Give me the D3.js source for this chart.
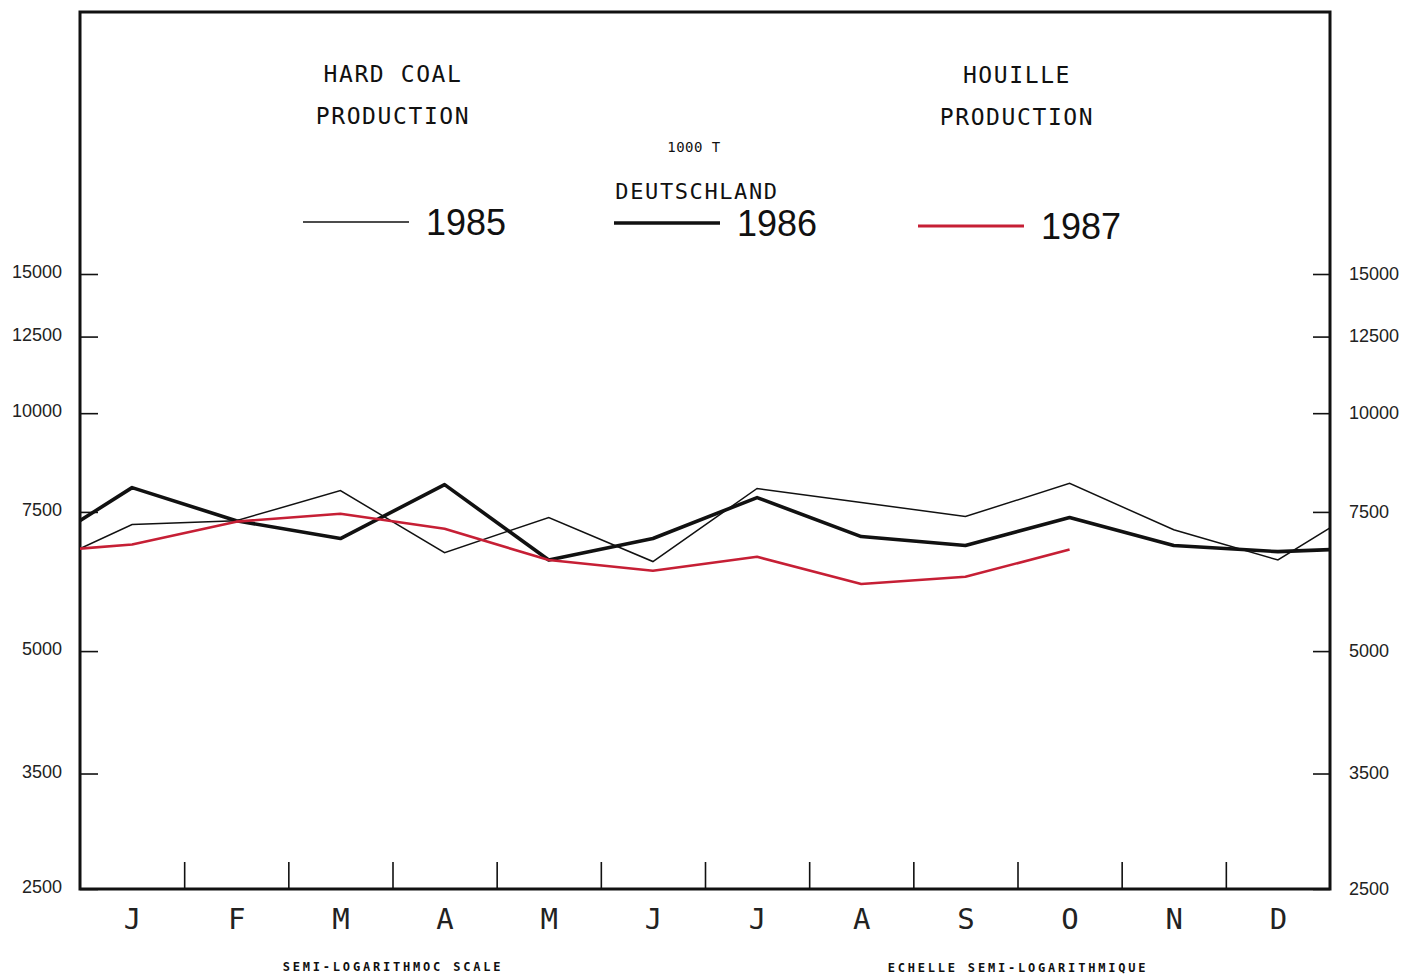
<!DOCTYPE html>
<html>
<head>
<meta charset="utf-8">
<script src="https://cdn.jsdelivr.net/npm/d3@7"></script>
<style>
  body { margin: 0; background: #fff; }
  .mono { font-family: "DejaVu Sans Mono", "Liberation Mono", monospace; }
</style>
</head>
<body>
<div id="chart"></div>
<script>
// months of the year, tick values of the log axis
const months = ['J', 'F', 'M', 'A', 'M', 'J', 'J', 'A', 'S', 'O', 'N', 'D'];
const yTicks = [2500, 3500, 5000, 7500, 10000, 12500, 15000];

// 1000 t, previous december, jan..dec, next january
const prod1985 = [6280, 7230, 7310, 7980, 6660, 7380, 6490, 8030, 7710, 7400, 8150, 7120, 6520, 7865];
const prod1986 = [6640, 8050, 7310, 6940, 8120, 6520, 6940, 7820, 6980, 6800, 7380, 6800, 6680, 6760];
const prod1987 = [6660, 6820, 7290, 7460, 7140, 6520, 6320, 6580, 6080, 6210, 6720];

const width = 1419, height = 975;
const mLeft = 80, mRight = 1330, mTop = 12, mBottom = 889;
const red = '#c61f35';

const svg = d3.select('#chart').append('svg')
  .attr('width', width).attr('height', height);

const x = d3.scaleLinear().domain([-0.5, 11.5]).range([mLeft, mRight]);
const y = d3.scaleLog().domain([2500, 15000]).range([mBottom, 274]);

svg.append('clipPath').attr('id', 'plot')
  .append('rect').attr('x', mLeft).attr('y', mTop)
  .attr('width', mRight - mLeft).attr('height', mBottom - mTop);

// axes
const styleAxis = g => {
  g.select('.domain').remove();
  g.selectAll('.tick line').attr('stroke', '#111').attr('stroke-width', 1.6);
  g.selectAll('text').attr('fill', '#222');
};

svg.append('g').attr('transform', `translate(${mLeft},0)`)
  .call(d3.axisLeft(y).tickValues(yTicks).tickFormat(d3.format('d')).tickSize(-18).tickPadding(18))
  .call(styleAxis)
  .selectAll('text').attr('dy', '0.2em').style('font', '18px "Liberation Sans", Arial, sans-serif');

svg.append('g').attr('transform', `translate(${mRight},0)`)
  .call(d3.axisRight(y).tickValues(yTicks).tickFormat(d3.format('d')).tickSize(-17).tickPadding(19))
  .call(styleAxis)
  .selectAll('text').attr('dy', '0.3em').style('font', '18px "Liberation Sans", Arial, sans-serif');

svg.append('g').attr('transform', `translate(0,${mBottom})`)
  .call(d3.axisBottom(x).tickValues(d3.range(11).map(i => i + 0.5)).tickSize(-27).tickFormat(''))
  .call(styleAxis);

svg.append('g').attr('transform', `translate(0,${mBottom})`)
  .call(d3.axisBottom(x).tickValues(d3.range(12)).tickSize(0).tickPadding(19).tickFormat(i => months[i]))
  .call(styleAxis)
  .selectAll('text').attr('class', 'mono').style('font-size', '29px');

// frame
svg.append('rect')
  .attr('x', mLeft).attr('y', mTop)
  .attr('width', mRight - mLeft).attr('height', mBottom - mTop)
  .attr('fill', 'none').attr('stroke', '#111').attr('stroke-width', 3);

// lines
const line = d3.line().x((d, i) => x(i - 1)).y(d => y(d));
const plot = svg.append('g').attr('clip-path', 'url(#plot)');

plot.append('path').datum(prod1985).attr('d', line)
  .attr('fill', 'none').attr('stroke', '#111').attr('stroke-width', 1.5);
plot.append('path').datum(prod1986).attr('d', line)
  .attr('fill', 'none').attr('stroke', '#111').attr('stroke-width', 3.6).attr('stroke-linejoin', 'round');
plot.append('path').datum(prod1987).attr('d', line)
  .attr('fill', 'none').attr('stroke', red).attr('stroke-width', 2.6).attr('stroke-linejoin', 'round');

// titles
const title = (tx, ty, s, size, ls) => svg.append('text')
  .attr('class', 'mono').attr('x', tx).attr('y', ty)
  .attr('text-anchor', 'middle')
  .style('font-size', size + 'px').style('letter-spacing', ls + 'px')
  .attr('fill', '#111').text(s);

title(393, 82, 'HARD COAL', 23, 1.6);
title(393, 124, 'PRODUCTION', 23, 1.6);
title(1017, 83, 'HOUILLE', 23, 1.6);
title(1017, 125, 'PRODUCTION', 23, 1.6);
title(694, 152, '1000 T', 14, 0.5);
title(697, 199, 'DEUTSCHLAND', 22, 1.6);
title(393, 971, 'SEMI-LOGARITHMOC SCALE', 12, 2.8).style('font-weight', 'bold');
title(1018, 972, 'ECHELLE SEMI-LOGARITHMIQUE', 12, 2.8).style('font-weight', 'bold');

// legend
const legend = [
  { label: '1985', x0: 303, ly: 222, color: '#111', w: 1.5 },
  { label: '1986', x0: 614, ly: 223, color: '#111', w: 3.6 },
  { label: '1987', x0: 918, ly: 226, color: red, w: 2.8 }
];
legend.forEach(d => {
  svg.append('line').attr('x1', d.x0).attr('x2', d.x0 + 106)
    .attr('y1', d.ly).attr('y2', d.ly)
    .attr('stroke', d.color).attr('stroke-width', d.w);
  svg.append('text').attr('x', d.x0 + 123).attr('y', d.ly + 13)
    .style('font', '36px "Liberation Sans", Arial, sans-serif')
    .attr('fill', '#111').text(d.label);
});
</script>
</body>
</html>
